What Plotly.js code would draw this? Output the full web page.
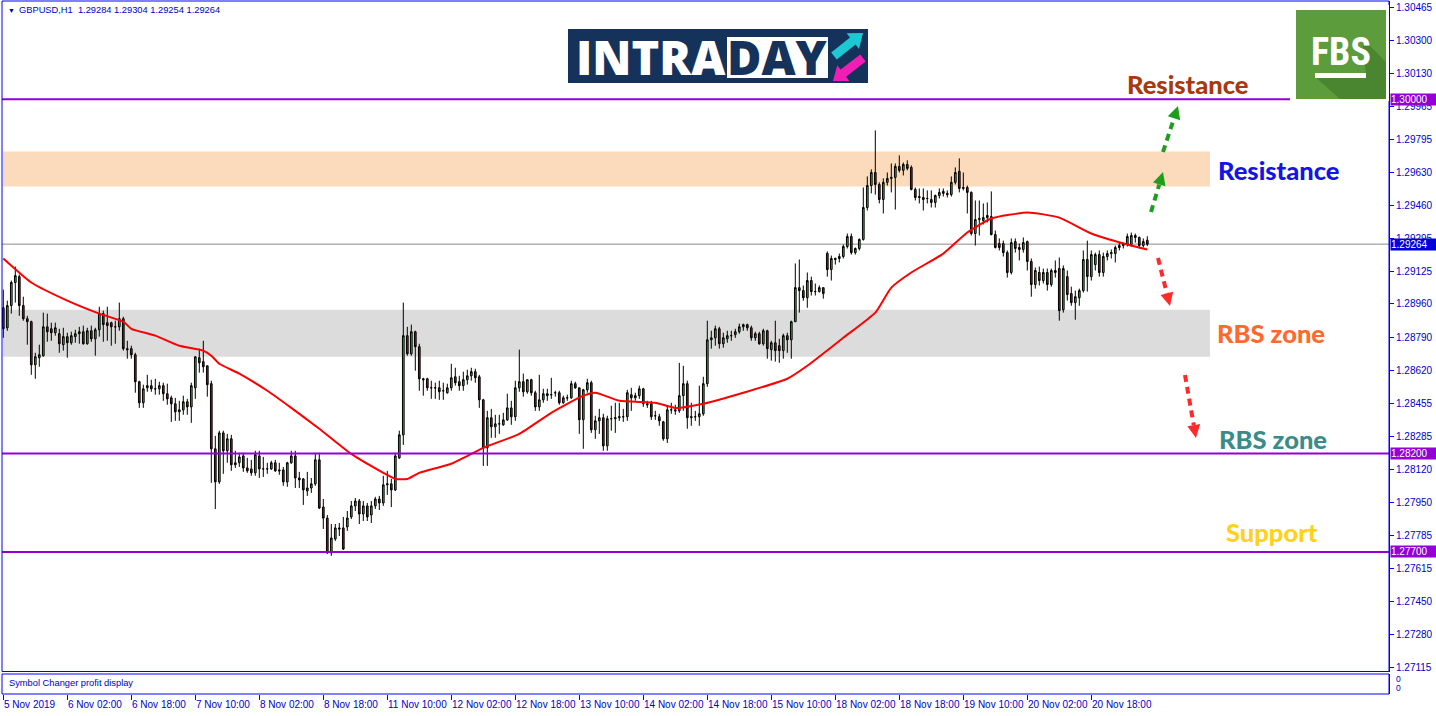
<!DOCTYPE html>
<html><head><meta charset="utf-8">
<script src="https://cdn.plot.ly/plotly-3.0.1.min.js"></script>
<style>html,body{margin:0;padding:0;background:#fff;overflow:hidden}#chart{width:1436px;height:716px}</style>
</head><body><div id="chart"></div>
<script>
// ---------- DATA ----------
const symbol = "GBPUSD,H1";
const timeLabels = ["5 Nov 2019","6 Nov 02:00","6 Nov 18:00","7 Nov 10:00","8 Nov 02:00","8 Nov 18:00","11 Nov 10:00","12 Nov 02:00","12 Nov 18:00","13 Nov 10:00","14 Nov 02:00","14 Nov 18:00","15 Nov 10:00","18 Nov 02:00","18 Nov 18:00","19 Nov 10:00","20 Nov 02:00","20 Nov 18:00"];
const barsPerLabel = 16;

const openP = [1.28941,1.28839,1.28952,1.29069,1.29099,1.28952,1.28885,1.28870,1.28651,1.28687,1.28697,1.28844,1.28834,1.28814,1.28809,1.28753,1.28794,1.28763,1.28794,1.28809,1.28819,1.28758,1.28824,1.28783,1.28829,1.28911,1.28865,1.28865,1.28844,1.28844,1.28885,1.28733,1.28733,1.28702,1.28565,1.28458,1.28534,1.28545,1.28529,1.28529,1.28545,1.28504,1.28483,1.28453,1.28412,1.28422,1.28463,1.28437,1.28534,1.28687,1.28667,1.28646,1.28555,1.28224,1.28056,1.28305,1.28214,1.28275,1.28143,1.28153,1.28188,1.28127,1.28122,1.28102,1.28188,1.28122,1.28122,1.28122,1.28153,1.28117,1.28117,1.28056,1.28153,1.28188,1.28076,1.28071,1.28010,1.28025,1.28046,1.28168,1.27928,1.27872,1.27695,1.27766,1.27822,1.27822,1.27827,1.27878,1.27934,1.27959,1.27893,1.27934,1.27888,1.27934,1.27969,1.27949,1.28041,1.28046,1.28015,1.28178,1.28295,1.28799,1.28707,1.28819,1.28743,1.28580,1.28580,1.28534,1.28534,1.28534,1.28519,1.28509,1.28534,1.28590,1.28565,1.28545,1.28575,1.28595,1.28616,1.28590,1.28473,1.28229,1.28382,1.28336,1.28351,1.28346,1.28371,1.28432,1.28387,1.28534,1.28565,1.28514,1.28575,1.28509,1.28437,1.28473,1.28504,1.28499,1.28509,1.28509,1.28458,1.28483,1.28483,1.28555,1.28534,1.28372,1.28524,1.28560,1.28321,1.28366,1.28382,1.28239,1.28377,1.28377,1.28382,1.28387,1.28387,1.28499,1.28483,1.28494,1.28529,1.28453,1.28453,1.28392,1.28387,1.28361,1.28275,1.28422,1.28422,1.28417,1.28494,1.28555,1.28382,1.28387,1.28387,1.28402,1.28555,1.28778,1.28788,1.28834,1.28758,1.28783,1.28799,1.28804,1.28819,1.28844,1.28855,1.28839,1.28788,1.28809,1.28758,1.28824,1.28728,1.28763,1.28748,1.28723,1.28799,1.28778,1.28870,1.29043,1.29028,1.28992,1.29079,1.29023,1.29023,1.29043,1.29217,1.29135,1.29191,1.29191,1.29201,1.29252,1.29303,1.29221,1.29242,1.29288,1.29450,1.29562,1.29628,1.29567,1.29491,1.29578,1.29598,1.29603,1.29659,1.29639,1.29669,1.29654,1.29542,1.29506,1.29501,1.29496,1.29491,1.29476,1.29511,1.29532,1.29522,1.29516,1.29578,1.29634,1.29547,1.29552,1.29527,1.29318,1.29389,1.29384,1.29399,1.29404,1.29313,1.29267,1.29267,1.29221,1.29120,1.29277,1.29247,1.29237,1.29277,1.29176,1.29059,1.29120,1.29079,1.29120,1.29059,1.29130,1.29140,1.28931,1.29099,1.29013,1.28967,1.28992,1.29028,1.29186,1.29099,1.29160,1.29211,1.29120,1.29201,1.29216,1.29216,1.29247,1.29257,1.29262,1.29262,1.29308,1.29298,1.29257,1.29284];
const highP = [1.29033,1.28977,1.29079,1.29150,1.29110,1.28997,1.28900,1.28875,1.28712,1.28753,1.28916,1.28911,1.28865,1.28865,1.28834,1.28839,1.28814,1.28819,1.28829,1.28844,1.28850,1.28839,1.28850,1.28839,1.28946,1.28926,1.28946,1.28870,1.28875,1.28967,1.28895,1.28773,1.28748,1.28712,1.28570,1.28550,1.28600,1.28575,1.28580,1.28565,1.28560,1.28555,1.28494,1.28483,1.28468,1.28494,1.28478,1.28560,1.28692,1.28733,1.28773,1.28646,1.28570,1.28290,1.28316,1.28316,1.28300,1.28295,1.28214,1.28204,1.28204,1.28178,1.28168,1.28214,1.28214,1.28183,1.28153,1.28163,1.28168,1.28153,1.28132,1.28158,1.28214,1.28214,1.28107,1.28076,1.28107,1.28076,1.28204,1.28204,1.27969,1.27888,1.27842,1.27842,1.27847,1.27878,1.27908,1.27959,1.27974,1.27969,1.27959,1.27949,1.27959,1.27980,1.27985,1.28087,1.28112,1.28071,1.28204,1.28316,1.28967,1.28844,1.28855,1.28824,1.28758,1.28585,1.28585,1.28570,1.28560,1.28570,1.28560,1.28555,1.28656,1.28636,1.28595,1.28616,1.28626,1.28636,1.28631,1.28600,1.28478,1.28417,1.28427,1.28397,1.28397,1.28407,1.28504,1.28468,1.28570,1.28728,1.28606,1.28575,1.28580,1.28519,1.28600,1.28529,1.28529,1.28585,1.28519,1.28519,1.28494,1.28499,1.28570,1.28565,1.28534,1.28529,1.28580,1.28570,1.28392,1.28427,1.28402,1.28392,1.28443,1.28458,1.28458,1.28427,1.28524,1.28534,1.28509,1.28545,1.28534,1.28468,1.28468,1.28417,1.28402,1.28366,1.28443,1.28458,1.28448,1.28661,1.28646,1.28570,1.28458,1.28417,1.28545,1.28590,1.28875,1.28824,1.28850,1.28844,1.28814,1.28824,1.28824,1.28834,1.28860,1.28860,1.28860,1.28850,1.28819,1.28819,1.28834,1.28829,1.28773,1.28875,1.28783,1.28809,1.28814,1.28875,1.29166,1.29186,1.29054,1.29120,1.29099,1.29064,1.29054,1.29043,1.29227,1.29206,1.29196,1.29216,1.29262,1.29318,1.29318,1.29247,1.29293,1.29552,1.29608,1.29644,1.29842,1.29578,1.29598,1.29628,1.29674,1.29674,1.29715,1.29679,1.29690,1.29664,1.29552,1.29547,1.29547,1.29537,1.29537,1.29516,1.29547,1.29547,1.29537,1.29608,1.29654,1.29700,1.29628,1.29562,1.29532,1.29486,1.29486,1.29471,1.29476,1.29532,1.29333,1.29293,1.29282,1.29232,1.29293,1.29293,1.29267,1.29298,1.29282,1.29191,1.29145,1.29150,1.29140,1.29140,1.29140,1.29181,1.29196,1.29156,1.29130,1.29048,1.29028,1.29038,1.29232,1.29282,1.29232,1.29221,1.29232,1.29221,1.29232,1.29237,1.29257,1.29272,1.29272,1.29318,1.29323,1.29318,1.29303,1.29293,1.29304];
const lowP = [1.28788,1.28824,1.28911,1.28967,1.28900,1.28875,1.28753,1.28600,1.28580,1.28641,1.28692,1.28768,1.28773,1.28799,1.28712,1.28723,1.28687,1.28753,1.28763,1.28758,1.28753,1.28753,1.28768,1.28697,1.28794,1.28768,1.28773,1.28748,1.28758,1.28824,1.28723,1.28682,1.28682,1.28509,1.28432,1.28432,1.28514,1.28514,1.28499,1.28499,1.28468,1.28448,1.28361,1.28366,1.28366,1.28397,1.28397,1.28356,1.28478,1.28611,1.28611,1.28489,1.28051,1.27918,1.28046,1.28097,1.28153,1.28112,1.28127,1.28132,1.28107,1.28102,1.28087,1.28087,1.28076,1.28081,1.28097,1.28117,1.28107,1.28092,1.28036,1.28031,1.28148,1.28025,1.28025,1.27939,1.27985,1.28000,1.28036,1.27918,1.27817,1.27690,1.27680,1.27756,1.27781,1.27710,1.27807,1.27867,1.27908,1.27842,1.27857,1.27857,1.27847,1.27918,1.27913,1.27934,1.27990,1.27928,1.28010,1.28173,1.28244,1.28697,1.28697,1.28621,1.28519,1.28494,1.28519,1.28478,1.28478,1.28473,1.28473,1.28504,1.28519,1.28545,1.28519,1.28519,1.28550,1.28570,1.28560,1.28432,1.28137,1.28137,1.28280,1.28280,1.28300,1.28341,1.28366,1.28346,1.28366,1.28514,1.28489,1.28504,1.28494,1.28417,1.28417,1.28458,1.28468,1.28478,1.28489,1.28448,1.28453,1.28468,1.28478,1.28529,1.28300,1.28224,1.28509,1.28305,1.28275,1.28300,1.28214,1.28214,1.28316,1.28305,1.28366,1.28361,1.28366,1.28417,1.28468,1.28478,1.28437,1.28432,1.28371,1.28371,1.28341,1.28265,1.28254,1.28402,1.28397,1.28407,1.28417,1.28326,1.28341,1.28366,1.28341,1.28392,1.28539,1.28733,1.28748,1.28733,1.28738,1.28763,1.28773,1.28788,1.28809,1.28824,1.28824,1.28773,1.28773,1.28753,1.28748,1.28682,1.28672,1.28667,1.28661,1.28682,1.28712,1.28682,1.28870,1.28916,1.28977,1.28941,1.29003,1.29003,1.29018,1.28987,1.29099,1.29079,1.29160,1.29171,1.29191,1.29242,1.29211,1.29211,1.29232,1.29282,1.29435,1.29522,1.29516,1.29471,1.29420,1.29562,1.29527,1.29440,1.29628,1.29613,1.29639,1.29537,1.29486,1.29471,1.29435,1.29471,1.29450,1.29450,1.29496,1.29506,1.29501,1.29506,1.29567,1.29527,1.29537,1.29420,1.29308,1.29257,1.29308,1.29364,1.29374,1.29308,1.29242,1.29232,1.29201,1.29094,1.29110,1.29221,1.29181,1.29221,1.29130,1.28997,1.29038,1.29054,1.29064,1.29028,1.29048,1.29094,1.28875,1.28916,1.28977,1.28951,1.28880,1.28951,1.29018,1.29023,1.29079,1.29130,1.29099,1.29099,1.29181,1.29191,1.29171,1.29232,1.29242,1.29252,1.29252,1.29272,1.29242,1.29247,1.29254];
const closeP = [1.28834,1.28952,1.29069,1.29104,1.28952,1.28885,1.28870,1.28651,1.28692,1.28702,1.28844,1.28819,1.28814,1.28839,1.28758,1.28794,1.28763,1.28799,1.28809,1.28819,1.28758,1.28824,1.28783,1.28829,1.28911,1.28855,1.28850,1.28844,1.28844,1.28885,1.28733,1.28728,1.28702,1.28565,1.28458,1.28529,1.28545,1.28529,1.28529,1.28545,1.28504,1.28478,1.28453,1.28412,1.28422,1.28463,1.28437,1.28545,1.28692,1.28661,1.28641,1.28550,1.28224,1.28056,1.28305,1.28214,1.28275,1.28143,1.28153,1.28183,1.28127,1.28112,1.28102,1.28194,1.28122,1.28122,1.28122,1.28153,1.28112,1.28112,1.28056,1.28153,1.28188,1.28076,1.28066,1.28015,1.28025,1.28046,1.28168,1.27923,1.27872,1.27695,1.27771,1.27822,1.27817,1.27715,1.27872,1.27934,1.27959,1.27893,1.27934,1.27878,1.27934,1.27969,1.27949,1.28041,1.28046,1.28015,1.28188,1.28295,1.28799,1.28707,1.28819,1.28743,1.28580,1.28575,1.28534,1.28534,1.28534,1.28514,1.28519,1.28534,1.28585,1.28560,1.28545,1.28575,1.28595,1.28616,1.28585,1.28473,1.28229,1.28382,1.28336,1.28351,1.28351,1.28371,1.28432,1.28387,1.28534,1.28565,1.28514,1.28575,1.28509,1.28437,1.28473,1.28504,1.28494,1.28499,1.28509,1.28458,1.28483,1.28483,1.28555,1.28534,1.28372,1.28524,1.28560,1.28321,1.28366,1.28382,1.28239,1.28377,1.28377,1.28382,1.28387,1.28387,1.28509,1.28483,1.28494,1.28529,1.28453,1.28448,1.28387,1.28392,1.28366,1.28275,1.28422,1.28422,1.28417,1.28494,1.28555,1.28382,1.28387,1.28387,1.28402,1.28555,1.28778,1.28788,1.28834,1.28758,1.28788,1.28799,1.28799,1.28819,1.28844,1.28855,1.28839,1.28788,1.28809,1.28758,1.28824,1.28733,1.28763,1.28723,1.28723,1.28799,1.28778,1.28870,1.29043,1.29028,1.28992,1.29079,1.29023,1.29023,1.29043,1.29013,1.29135,1.29191,1.29186,1.29201,1.29252,1.29303,1.29221,1.29242,1.29288,1.29450,1.29562,1.29628,1.29567,1.29491,1.29578,1.29598,1.29603,1.29659,1.29639,1.29669,1.29649,1.29542,1.29501,1.29501,1.29491,1.29496,1.29476,1.29511,1.29527,1.29522,1.29516,1.29578,1.29628,1.29547,1.29552,1.29527,1.29318,1.29389,1.29394,1.29399,1.29410,1.29313,1.29247,1.29247,1.29221,1.29120,1.29272,1.29242,1.29237,1.29272,1.29176,1.29059,1.29130,1.29079,1.29120,1.29059,1.29130,1.29120,1.28926,1.29140,1.29008,1.28967,1.28997,1.29028,1.29186,1.29099,1.29211,1.29211,1.29120,1.29201,1.29216,1.29221,1.29247,1.29257,1.29262,1.29303,1.29308,1.29298,1.29257,1.29277,1.29264];

// moving average (red line), read at sample bars
const maBar   = [0,7,16,24,30,32,38,44,50,52,54,59,66,72,79,87,95,98,101,104,112,120,129,137,145,148,154,163,168,175,185,196,201,210,218,222,227,235,241,247,256,264,272,281,286];
const maValue = [1.29191,1.29069,1.28977,1.28911,1.28870,1.28834,1.28799,1.28748,1.28723,1.28697,1.28656,1.28606,1.28519,1.28432,1.28326,1.28198,1.28102,1.28071,1.28071,1.28102,1.28148,1.28229,1.28300,1.28407,1.28494,1.28509,1.28468,1.28458,1.28432,1.28453,1.28509,1.28580,1.28646,1.28788,1.28916,1.29043,1.29120,1.29216,1.29323,1.29394,1.29425,1.29399,1.29318,1.29262,1.29237];

const yTickValues = [1.30465,1.30300,1.30130,1.29965,1.29795,1.29630,1.29460,1.29295,1.29125,1.28960,1.28790,1.28620,1.28455,1.28285,1.28120,1.27950,1.27785,1.27615,1.27450,1.27280,1.27115];
const resistanceLevel = 1.30000;
const supportLevels = [1.28200, 1.27700];
const resistanceZone = [1.29557, 1.29735];
const rbsZone = [1.28692, 1.28931];
const zoneLabels = ["Resistance","Resistance","RBS zone","RBS zone","Support"];

// ---------- LAYOUT HELPERS ----------
const W = 1436, H = 716;
const PL = 2, PR = 1389, PT = 1, PB = 694;
const px = x => (x - PL) / (PR - PL);
const py = y => (PB - y) / (PB - PT);
const BLUE = '#0000ff', TXT = '#0000c8';
const SMALL = 'Liberation Sans, Arial, sans-serif';
const idx = closeP.map((_, i) => i);
const lastI = closeP.length - 1;

function arrow(x1, y1, x2, y2, color) {
  const dx = x2 - x1, dy = y2 - y1, len = Math.hypot(dx, dy), ux = dx / len, uy = dy / len;
  const hl = 13, hw = 6.5, bx = x2 - ux * hl, by = y2 - uy * hl, nx = -uy, ny = ux;
  return [
    {type:'line', xref:'paper', yref:'paper', x0:px(x1), y0:py(y1), x1:px(bx), y1:py(by), line:{color:color, width:4, dash:'7px,5px'}},
    {type:'path', xref:'paper', yref:'paper', path:`M${px(x2)},${py(y2)} L${px(bx+nx*hw)},${py(by+ny*hw)} L${px(bx-nx*hw)},${py(by-ny*hw)} Z`, fillcolor:color, line:{color:color, width:0}}
  ];
}
function fatArrow(x1, y1, x2, y2, sw, hw, hl, color) {
  const dx = x2 - x1, dy = y2 - y1, len = Math.hypot(dx, dy), ux = dx / len, uy = dy / len;
  const bx = x2 - ux * hl, by = y2 - uy * hl, nx = -uy, ny = ux;
  const pts = [[x1+nx*sw,y1+ny*sw],[bx+nx*sw,by+ny*sw],[bx+nx*hw,by+ny*hw],[x2,y2],[bx-nx*hw,by-ny*hw],[bx-nx*sw,by-ny*sw],[x1-nx*sw,y1-ny*sw]];
  return {type:'path', xref:'paper', yref:'paper', layer:'above',
    path:'M' + pts.map(p => px(p[0]) + ',' + py(p[1])).join(' L') + ' Z', fillcolor:color, line:{color:color, width:0}};
}
function prect(x0, y0, x1, y1, fill, extra) {
  return Object.assign({type:'rect', xref:'paper', yref:'paper', x0:px(x0), x1:px(x1), y0:py(y1), y1:py(y0), fillcolor:fill, line:{width:0}, layer:'above'}, extra || {});
}

const mainBottom = py(671.5), subTop = py(674);

// ---------- TRACES ----------
const traces = [
  {type:'candlestick', x:idx, open:openP, high:highP, low:lowP, close:closeP, xaxis:'x', yaxis:'y',
   increasing:{line:{color:'#000000', width:1}, fillcolor:'#00e000'},
   decreasing:{line:{color:'#000000', width:1}, fillcolor:'#e00000'},
   whiskerwidth:0, hoverinfo:'skip', showlegend:false},
  {type:'scatter', mode:'lines', x:maBar, y:maValue, xaxis:'x', yaxis:'y', line:{color:'#ff0000', width:2, shape:'spline', smoothing:0.5},
   hoverinfo:'skip', showlegend:false},
  {type:'scatter', mode:'lines', x:[0], y:[0.5], xaxis:'x', yaxis:'y2', line:{width:0}, hoverinfo:'skip', showlegend:false}
];

// ---------- SHAPES ----------
const shapes = [
  {type:'rect', xref:'paper', yref:'y', x0:px(3), x1:px(1210), y0:resistanceZone[0], y1:resistanceZone[1], fillcolor:'#fcdbbc', line:{width:0}, layer:'below'},
  {type:'rect', xref:'paper', yref:'y', x0:px(3), x1:px(1210), y0:rbsZone[0], y1:rbsZone[1], fillcolor:'#dcdcdc', line:{width:0}, layer:'below'},
  {type:'line', xref:'paper', yref:'y', x0:0, x1:1, y0:closeP[lastI], y1:closeP[lastI], line:{color:'#8a8a8a', width:1}, layer:'below'},
  {type:'line', xref:'paper', yref:'y', x0:0, x1:px(1290), y0:resistanceLevel, y1:resistanceLevel, line:{color:'#9400d3', width:2}},
  ...supportLevels.map(v => ({type:'line', xref:'paper', yref:'y', x0:0, x1:1, y0:v, y1:v, line:{color:'#9400d3', width:2}})),
  // window frames
  {type:'rect', xref:'paper', yref:'paper', x0:0, x1:1, y0:mainBottom, y1:1, line:{color:BLUE, width:1}},
  {type:'rect', xref:'paper', yref:'paper', x0:0, x1:1, y0:0, y1:subTop, line:{color:BLUE, width:1}},
  // arrows
  ...arrow(1151, 212, 1163, 172, '#1e9e1e'),
  ...arrow(1163, 152, 1178, 106, '#1e9e1e'),
  ...arrow(1158, 258, 1170, 306, '#ff2b2b'),
  ...arrow(1185, 375, 1196, 438, '#ff2b2b'),
  // INTRADAY logo
  prect(568, 29, 868, 83, '#15325a'),
  prect(727, 37, 828, 78, '#ffffff'),
  fatArrow(834, 56, 863, 33, 4.5, 10, 13, '#1ec8d2'),
  fatArrow(863, 58, 833, 81, 4.5, 10, 13, '#f01eb4'),
  // FBS logo
  prect(1290, 5, 1389, 101, '#ffffff'),
  prect(1296, 10, 1386, 99, '#5c9c3c'),
  {type:'path', xref:'paper', yref:'paper', layer:'above', fillcolor:'#4a8530', line:{width:0},
   path:[[1362,38],[1386,62],[1386,99],[1340,99],[1314,76],[1366,76]].map((p,k)=>(k?'L':'M')+px(p[0])+','+py(p[1])).join(' ')+' Z'},
  prect(1315, 73, 1366, 78, '#ffffff')
];

// ---------- ANNOTATIONS ----------
const ann = [];
// header
ann.push({xref:'paper', yref:'paper', x:px(6), y:py(10), xanchor:'left', yanchor:'middle', showarrow:false, text:'▼', font:{family:SMALL, size:7, color:'#000080'}});
ann.push({xref:'paper', yref:'paper', x:px(17), y:py(10), xanchor:'left', yanchor:'middle', showarrow:false,
  text: symbol + '\u00a0\u00a0' + [openP[lastI], highP[lastI], lowP[lastI], closeP[lastI]].map(v => v.toFixed(5)).join('\u00a0'),
  font:{family:SMALL, size:9.3, color:TXT}});
// sub window
ann.push({xref:'paper', yref:'paper', x:px(7), y:py(683), xanchor:'left', yanchor:'middle', showarrow:false, text:'Symbol Changer profit display', font:{family:SMALL, size:9.3, color:TXT}});
ann.push({xref:'paper', yref:'paper', x:px(1394), y:py(679), xanchor:'left', yanchor:'middle', showarrow:false, text:'0', font:{family:SMALL, size:8.5, color:TXT}});
ann.push({xref:'paper', yref:'paper', x:px(1394), y:py(688), xanchor:'left', yanchor:'middle', showarrow:false, text:'0', font:{family:SMALL, size:8.5, color:TXT}});
// x labels (left aligned at tick)
timeLabels.forEach((t, k) => ann.push({xref:'x', yref:'paper', x:k * barsPerLabel, y:py(704), xanchor:'left', yanchor:'middle', xshift:-1, showarrow:false, text:t, font:{family:SMALL, size:10, color:TXT}}));
// price boxes on the axis
[resistanceLevel, ...supportLevels].forEach(v => ann.push({xref:'paper', yref:'y', x:1, y:v, xanchor:'left', yanchor:'middle', xshift:1, showarrow:false, text:v.toFixed(5), bgcolor:'#9400d3', borderpad:0, width:45, height:11, align:'left', font:{family:SMALL, size:10, color:'#ffffff'}}));
ann.push({xref:'paper', yref:'y', x:1, y:closeP[lastI], xanchor:'left', yanchor:'middle', xshift:1, showarrow:false, text:closeP[lastI].toFixed(5), bgcolor:'#0000d8', borderpad:0, width:45, height:11, align:'left', font:{family:SMALL, size:10, color:'#ffffff'}});
// zone labels
const BIG = 'Lato, Open Sans, sans-serif';
[[1187,84,'#a8380e'],[1278,170,'#1414e6'],[1271,333,'#ff6a2c'],[1273,439,'#3c8b8b'],[1272,532,'#ffd21a']].forEach((p, k) =>
  ann.push({xref:'paper', yref:'paper', x:px(p[0]), y:py(p[1]), xanchor:'center', yanchor:'middle', showarrow:false, text:zoneLabels[k], font:{family:BIG, size:25.5, weight:900, color:p[2]}}));
// logo texts
ann.push({xref:'paper', yref:'paper', x:px(651), y:py(57), xanchor:'center', yanchor:'middle', showarrow:false, text:'INTRA', font:{family:'Open Sans, sans-serif', size:47, weight:800, color:'#ffffff'}});
ann.push({xref:'paper', yref:'paper', x:px(777), y:py(57), xanchor:'center', yanchor:'middle', showarrow:false, text:'DAY', font:{family:'Open Sans, sans-serif', size:47, weight:800, color:'#15325a'}});
ann.push({xref:'paper', yref:'paper', x:px(1341), y:py(52), xanchor:'center', yanchor:'middle', showarrow:false, text:'FBS', font:{family:'Roboto Condensed, DejaVu Sans Condensed, Liberation Sans Narrow, Roboto, sans-serif', size:38, weight:700, color:'#ffffff'}});

const layout = {
  width:W, height:H, margin:{l:PL, r:W - PR, t:PT, b:H - PB, pad:0},
  paper_bgcolor:'#ffffff', plot_bgcolor:'#ffffff', showlegend:false, hovermode:false, dragmode:false,
  boxgap:0.4,
  xaxis:{domain:[0,1], anchor:'y2', range:[-0.325, 346.425], showgrid:false, zeroline:false, showline:false,
    rangeslider:{visible:false}, tickvals:timeLabels.map((_, k) => k * barsPerLabel), showticklabels:false,
    ticks:'outside', ticklen:5, tickcolor:BLUE, tickwidth:1},
  yaxis:{domain:[mainBottom, 1], anchor:'x', side:'right', range:[1.270925, 1.304995], showgrid:false, zeroline:false,
    showline:true, linecolor:BLUE, linewidth:1, tickvals:yTickValues, ticktext:yTickValues.map(v => v.toFixed(5)),
    ticks:'outside', ticklen:4, tickcolor:BLUE, tickfont:{family:SMALL, size:10, color:TXT}},
  yaxis2:{domain:[0, subTop], anchor:'x', side:'right', range:[0,1], showgrid:false, zeroline:false, showline:true,
    linecolor:BLUE, showticklabels:false, ticks:''},
  shapes:shapes, annotations:ann
};
Plotly.newPlot('chart', traces, layout, {displayModeBar:false, staticPlot:true});
</script></body></html>
